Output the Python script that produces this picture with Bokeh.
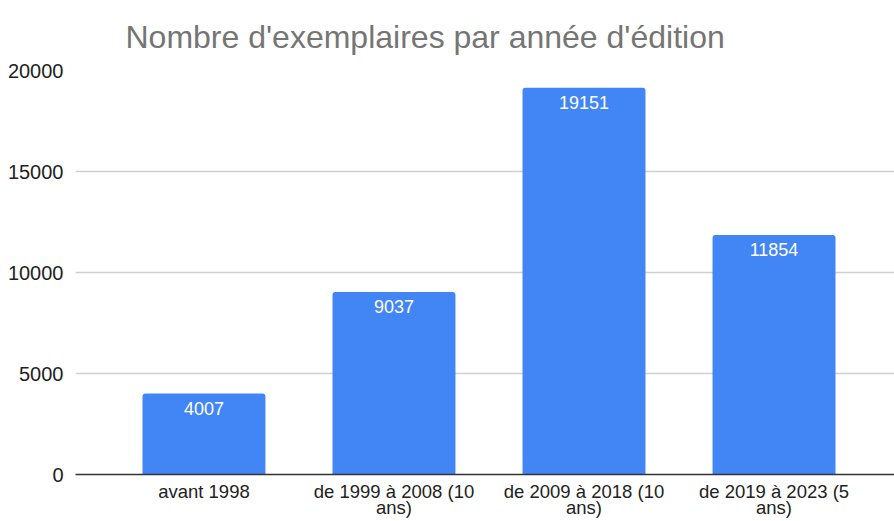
from bokeh.plotting import figure
from bokeh.models import ColumnDataSource, Range1d, FixedTicker
from bokeh.core.properties import value
from bokeh.embed import file_html
from bokeh.resources import INLINE

title_text = "Nombre d'exemplaires par année d'édition"
categories = ["avant 1998", "de 1999 à 2008 (10 ans)", "de 2009 à 2018 (10 ans)", "de 2019 à 2023 (5 ans)"]
tick_labels = ["avant 1998", "de 1999 à 2008 (10\nans)", "de 2009 à 2018 (10\nans)", "de 2019 à 2023 (5\nans)"]
exemplaires = [4007, 9037, 19151, 11854]
y_ticks = [0, 5000, 10000, 15000, 20000]

FONT = "Liberation Sans"

xs = list(range(len(categories)))
src = ColumnDataSource(dict(x=xs, top=exemplaires, label=[str(v) for v in exemplaires], cat=categories))

p = figure(width=894, height=521, output_backend="svg", toolbar_location=None,
           x_range=Range1d(-0.676, 3.634), y_range=Range1d(0, 20000),
           min_border_left=75, min_border_right=0, min_border_top=70, min_border_bottom=46)

p.title.text = title_text
p.title.text_font = FONT
p.title.text_font_size = "32px"
p.title.text_font_style = "normal"
p.title.text_color = "#757575"
p.title.align = "left"
p.title.offset = 50
p.title.standoff = 31

p.outline_line_color = None
p.background_fill_color = "white"
p.border_fill_color = "white"

p.vbar(x="x", top="top", width=0.647, bottom=0, source=src, fill_color="#4285F4",
       line_color=None, border_radius=(3, 3, 0, 0))

p.text(x="x", y="top", text="label", source=src, text_align="center", text_baseline="top",
       y_offset=8, text_color="white", text_font=value(FONT), text_font_size="18px")

p.xgrid.grid_line_color = None
p.ygrid.grid_line_color = "#d0d0d0"
p.ygrid.grid_line_width = 1.3
p.yaxis.ticker = FixedTicker(ticks=y_ticks)
p.yaxis.axis_line_color = None
p.yaxis.major_tick_line_color = None
p.yaxis.minor_tick_line_color = None
p.yaxis.major_label_text_font = FONT
p.yaxis.major_label_text_font_size = "20px"
p.yaxis.major_label_text_color = "#222222"
p.yaxis.major_label_standoff = 6

p.xaxis.ticker = FixedTicker(ticks=xs)
p.xaxis.major_label_overrides = {i: t for i, t in zip(xs, tick_labels)}
p.xaxis.axis_line_color = "#333333"
p.xaxis.axis_line_width = 1.5
p.xaxis.major_tick_line_color = None
p.xaxis.minor_tick_line_color = None
p.xaxis.major_label_text_font = FONT
p.xaxis.major_label_text_font_size = "18.5px"
p.xaxis.major_label_text_line_height = 0.8
p.xaxis.major_label_text_color = "#222222"
p.xaxis.major_label_standoff = 0

open("out.html", "w").write(file_html(p, INLINE))
